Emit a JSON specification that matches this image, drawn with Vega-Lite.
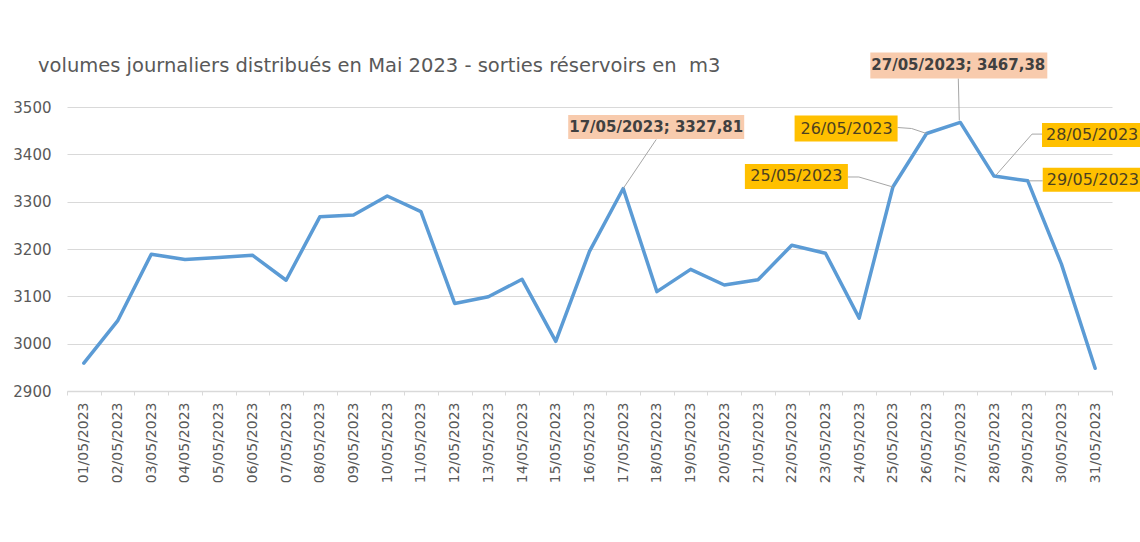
{
  "$schema": "https://vega.github.io/schema/vega-lite/v6.json",
  "width": 1045,
  "height": 284,
  "autosize": {"type": "none"},
  "padding": {"left": 67, "top": 107, "right": 28, "bottom": 151},
  "background": "#ffffff",
  "config": {"view": {"stroke": null}, "font": "DejaVu Sans"},
  "title": {
    "text": "volumes journaliers distribués en Mai 2023 - sorties réservoirs en\u00a0 m3",
    "anchor": "start",
    "frame": "group",
    "dx": -29,
    "dy": 63,
    "offset": 24,
    "baseline": "alphabetic",
    "font": "DejaVu Sans",
    "fontSize": 19.5,
    "fontWeight": "normal",
    "color": "#595959"
  },
  "data": {
    "values": [
      {"date": "01/05/2023", "value": 2959},
      {"date": "02/05/2023", "value": 3048},
      {"date": "03/05/2023", "value": 3189},
      {"date": "04/05/2023", "value": 3178},
      {"date": "05/05/2023", "value": 3182},
      {"date": "06/05/2023", "value": 3187},
      {"date": "07/05/2023", "value": 3134},
      {"date": "08/05/2023", "value": 3268},
      {"date": "09/05/2023", "value": 3272},
      {"date": "10/05/2023", "value": 3312},
      {"date": "11/05/2023", "value": 3279},
      {"date": "12/05/2023", "value": 3085},
      {"date": "13/05/2023", "value": 3099},
      {"date": "14/05/2023", "value": 3136},
      {"date": "15/05/2023", "value": 3005},
      {"date": "16/05/2023", "value": 3195},
      {"date": "17/05/2023", "value": 3327.81, "label": "17/05/2023; 3327,81"},
      {"date": "18/05/2023", "value": 3110},
      {"date": "19/05/2023", "value": 3157},
      {"date": "20/05/2023", "value": 3124},
      {"date": "21/05/2023", "value": 3135},
      {"date": "22/05/2023", "value": 3208},
      {"date": "23/05/2023", "value": 3191},
      {"date": "24/05/2023", "value": 3054},
      {"date": "25/05/2023", "value": 3331, "label": "25/05/2023"},
      {"date": "26/05/2023", "value": 3444, "label": "26/05/2023"},
      {"date": "27/05/2023", "value": 3467.38, "label": "27/05/2023; 3467,38"},
      {"date": "28/05/2023", "value": 3354, "label": "28/05/2023"},
      {"date": "29/05/2023", "value": 3344, "label": "29/05/2023"},
      {"date": "30/05/2023", "value": 3168},
      {"date": "31/05/2023", "value": 2948}
    ]
  },
  "encoding": {
    "x": {
      "field": "date",
      "type": "ordinal",
      "sort": null,
      "scale": {"type": "band", "paddingInner": 0, "paddingOuter": 0},
      "axis": {
        "title": null,
        "labelAngle": 270,
        "labelAlign": "right",
        "labelBaseline": "middle",
        "labelFont": "DejaVu Sans",
        "labelFontSize": 14,
        "labelColor": "#595959",
        "labelPadding": 7,
        "tickBand": "extent",
        "tickSize": 4,
        "tickColor": "#D9D9D9",
        "domainColor": "#D9D9D9",
        "domainWidth": 1.5,
        "grid": false
      }
    },
    "y": {
      "field": "value",
      "type": "quantitative",
      "scale": {"domain": [2900, 3500], "nice": false, "zero": false},
      "axis": {
        "title": null,
        "format": "d",
        "values": [2900, 3000, 3100, 3200, 3300, 3400, 3500],
        "labelFont": "DejaVu Sans",
        "labelFontSize": 15,
        "labelColor": "#595959",
        "labelPadding": 16,
        "ticks": false,
        "tickSize": 0,
        "domain": false,
        "grid": true,
        "gridColor": "#D9D9D9",
        "gridWidth": 1
      }
    }
  },
  "layer": [
    {
      "mark": {"type": "line", "color": "#5B9BD5", "strokeWidth": 3.5, "strokeJoin": "round", "strokeCap": "round"}
    },
    {
      "transform": [{"filter": "datum.date == '17/05/2023'"}],
      "layer": [
        {"mark": {"type": "point", "shape": "M0,0L33,-49", "size": 4, "filled": false, "stroke": "#A6A6A6", "strokeWidth": 1, "opacity": 1}},
        {"mark": {"type": "point", "shape": "M-55,-73.5H121V-49.5H-55Z", "size": 4, "filled": true, "fill": "#F8CBAD", "strokeWidth": 0, "opacity": 1}},
        {"mark": {"type": "text", "dx": 33, "dy": -61.5, "align": "center", "baseline": "middle", "font": "DejaVu Sans", "fontSize": 15, "fontWeight": "bold", "color": "#404040"}, "encoding": {"text": {"field": "label"}}}
      ]
    },
    {
      "transform": [{"filter": "datum.date == '27/05/2023'"}],
      "layer": [
        {"mark": {"type": "point", "shape": "M-1,-2L-2,-44", "size": 4, "filled": false, "stroke": "#A6A6A6", "strokeWidth": 1, "opacity": 1}},
        {"mark": {"type": "point", "shape": "M-90,-70H87V-44H-90Z", "size": 4, "filled": true, "fill": "#F8CBAD", "strokeWidth": 0, "opacity": 1}},
        {"mark": {"type": "text", "dx": -2, "dy": -57, "align": "center", "baseline": "middle", "font": "DejaVu Sans", "fontSize": 15, "fontWeight": "bold", "color": "#404040"}, "encoding": {"text": {"field": "label"}}}
      ]
    },
    {
      "transform": [{"filter": "datum.date == '26/05/2023'"}],
      "layer": [
        {"mark": {"type": "point", "shape": "M0,0L-15,-5L-29,-6", "size": 4, "filled": false, "stroke": "#A6A6A6", "strokeWidth": 1, "opacity": 1}},
        {"mark": {"type": "point", "shape": "M-132,-18H-29V8H-132Z", "size": 4, "filled": true, "fill": "#FFC000", "strokeWidth": 0, "opacity": 1}},
        {"mark": {"type": "text", "dx": -80, "dy": -5, "align": "center", "baseline": "middle", "font": "DejaVu Sans", "fontSize": 16, "color": "#4D4020"}, "encoding": {"text": {"field": "label"}}}
      ]
    },
    {
      "transform": [{"filter": "datum.date == '25/05/2023'"}],
      "layer": [
        {"mark": {"type": "point", "shape": "M0,0L-34,-10L-45,-10", "size": 4, "filled": false, "stroke": "#A6A6A6", "strokeWidth": 1, "opacity": 1}},
        {"mark": {"type": "point", "shape": "M-148,-23H-45V2H-148Z", "size": 4, "filled": true, "fill": "#FFC000", "strokeWidth": 0, "opacity": 1}},
        {"mark": {"type": "text", "dx": -96.5, "dy": -10.5, "align": "center", "baseline": "middle", "font": "DejaVu Sans", "fontSize": 16, "color": "#4D4020"}, "encoding": {"text": {"field": "label"}}}
      ]
    },
    {
      "transform": [{"filter": "datum.date == '28/05/2023'"}],
      "layer": [
        {"mark": {"type": "point", "shape": "M2,-1L38,-42L48,-42", "size": 4, "filled": false, "stroke": "#A6A6A6", "strokeWidth": 1, "opacity": 1}},
        {"mark": {"type": "point", "shape": "M48,-53H151V-29H48Z", "size": 4, "filled": true, "fill": "#FFC000", "strokeWidth": 0, "opacity": 1}},
        {"mark": {"type": "text", "dx": 52, "dy": -41, "align": "left", "baseline": "middle", "font": "DejaVu Sans", "fontSize": 16, "color": "#4D4020"}, "encoding": {"text": {"field": "label"}}}
      ]
    },
    {
      "transform": [{"filter": "datum.date == '29/05/2023'"}],
      "layer": [
        {"mark": {"type": "point", "shape": "M1,0L15,0", "size": 4, "filled": false, "stroke": "#A6A6A6", "strokeWidth": 1, "opacity": 1}},
        {"mark": {"type": "point", "shape": "M15,-13H118V11H15Z", "size": 4, "filled": true, "fill": "#FFC000", "strokeWidth": 0, "opacity": 1}},
        {"mark": {"type": "text", "dx": 19, "dy": -1, "align": "left", "baseline": "middle", "font": "DejaVu Sans", "fontSize": 16, "color": "#4D4020"}, "encoding": {"text": {"field": "label"}}}
      ]
    }
  ]
}
